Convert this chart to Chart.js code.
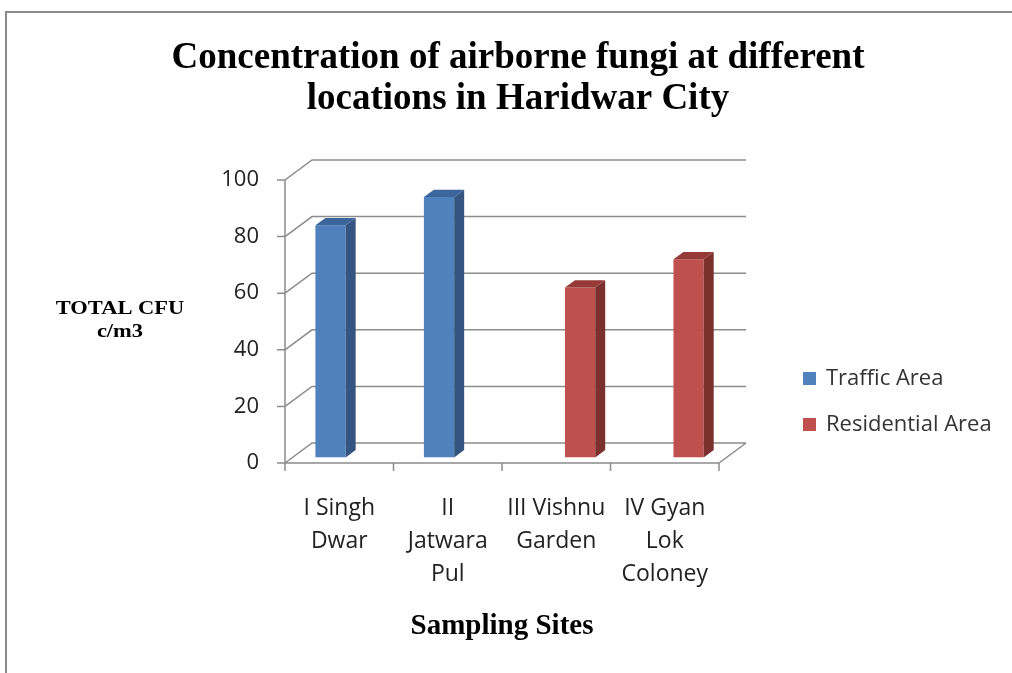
<!DOCTYPE html>
<html>
<head>
<meta charset="utf-8">
<script src="https://cdn.jsdelivr.net/npm/chart.js@4.4.0/dist/chart.umd.min.js"></script>
<style>
html, body { margin: 0; padding: 0; background: #fff; }
</style>
</head>
<body>
<canvas id="bar-chart" width="1012" height="673"></canvas>
<script>
// data
var site_labels = [["I Singh", "Dwar"], ["II", "Jatwara", "Pul"], ["III Vishnu", "Garden"], ["IV Gyan", "Lok", "Coloney"]];
var traffic_values = [82, 92, null, null];
var residential_values = [null, null, 60, 70];
var series_names = ["Traffic Area", "Residential Area"];
var chart_title = ["Concentration of airborne fungi at different", "locations in Haridwar City"];
var y_title = ["TOTAL CFU", "c/m3"];
var x_title = "Sampling Sites";

var DX = 27, DY = -20;          // depth of the 3d box
var BAR_SHIFT = 0.28, BAR_DEPTH = 0.37;
var GRID = '#8c8c8c';

var box3d = {
    id: 'box3d',
    beforeDraw: function (chart)
    {
        var ctx = chart.ctx;
        ctx.save();
        ctx.fillStyle = '#fff';
        ctx.fillRect(0, 0, chart.width, chart.height);
        ctx.strokeStyle = '#8a8a8a';
        ctx.lineWidth = 2;
        ctx.strokeRect(6, 12, chart.width + 20, chart.height + 20);
        ctx.restore();
    },
    beforeDatasetsDraw: function (chart)
    {
        var ctx = chart.ctx, a = chart.chartArea, y = chart.scales.y, x = chart.scales.x;
        ctx.save();
        ctx.strokeStyle = GRID;
        ctx.lineWidth = 1.5;
        ctx.beginPath();
        y.ticks.forEach(function (t)
        {
            var py = y.getPixelForValue(t.value);
            ctx.moveTo(a.left, py);
            ctx.lineTo(a.left + DX, py + DY);
            ctx.lineTo(a.right + DX, py + DY);
            ctx.moveTo(a.left - 8, py);
            ctx.lineTo(a.left, py);
        });
        ctx.moveTo(a.left, a.top);
        ctx.lineTo(a.left, a.bottom);
        ctx.moveTo(a.left, a.bottom);
        ctx.lineTo(a.right, a.bottom);
        ctx.lineTo(a.right + DX, a.bottom + DY);
        for (var i = 0; i <= x.ticks.length; i++)
        {
            var px = x.getPixelForValue(i - 0.5);
            ctx.moveTo(px, a.bottom);
            ctx.lineTo(px, a.bottom + 8);
        }
        ctx.stroke();
        ctx.restore();

        ctx.save();
        ctx.translate(DX * BAR_SHIFT, DY * BAR_SHIFT);
    },
    afterDatasetsDraw: function (chart)
    {
        var ctx = chart.ctx;
        var dx = DX * BAR_DEPTH, dy = DY * BAR_DEPTH;
        chart.data.datasets.forEach(function (ds, di)
        {
            var meta = chart.getDatasetMeta(di);
            meta.data.forEach(function (bar, i)
            {
                if (ds.data[i] == null) return;
                var p = bar.getProps(['x', 'y', 'base', 'width'], true);
                var l = p.x - p.width / 2, r = p.x + p.width / 2;
                ctx.fillStyle = ds.sideColor;
                ctx.beginPath();
                ctx.moveTo(r, p.y);
                ctx.lineTo(r + dx, p.y + dy);
                ctx.lineTo(r + dx, p.base + dy);
                ctx.lineTo(r, p.base);
                ctx.closePath();
                ctx.fill();
                ctx.fillStyle = ds.topColor;
                ctx.beginPath();
                ctx.moveTo(l, p.y);
                ctx.lineTo(l + dx, p.y + dy);
                ctx.lineTo(r + dx, p.y + dy);
                ctx.lineTo(r, p.y);
                ctx.closePath();
                ctx.fill();
            });
        });
        ctx.restore();
    },
    afterDraw: function (chart)
    {
        var ctx = chart.ctx;
        ctx.save();
        ctx.fillStyle = '#000';
        ctx.textAlign = 'center';
        ctx.textBaseline = 'alphabetic';
        ctx.font = 'bold 37px "Liberation Serif"';
        ctx.fillText(chart_title[0], 518, 68);
        ctx.fillText(chart_title[1], 518, 109);

        // y title is horizontal and a bit wide
        ctx.textBaseline = 'middle';
        ctx.save();
        ctx.translate(120, 0);
        ctx.scale(1.25, 1);
        ctx.font = 'bold 18px "Liberation Serif"';
        ctx.fillText(y_title[0], 0, 309);
        ctx.fillText(y_title[1], 0, 332);
        ctx.restore();

        // legend
        ctx.textAlign = 'left';
        ctx.font = '22px "Open Sans"';
        chart.data.datasets.forEach(function (ds, di)
        {
            var cy = 378 + di * 46;
            ctx.fillStyle = ds.backgroundColor;
            ctx.fillRect(803, cy - 6, 13, 13);
            ctx.fillStyle = '#333';
            ctx.fillText(ds.label, 826, cy + 1);
        });
        ctx.restore();
    }
};

var m_chart = new Chart(document.getElementById('bar-chart'), {
    type: 'bar',
    data: {
        labels: site_labels,
        datasets: [
            {
                label: series_names[0],
                data: traffic_values,
                backgroundColor: '#4F81BD',
                sideColor: '#34557F',
                topColor: '#3C659B',
                categoryPercentage: 0.6,
                barPercentage: 0.93
            },
            {
                label: series_names[1],
                data: residential_values,
                backgroundColor: '#C0504D',
                sideColor: '#7B302E',
                topColor: '#963A38',
                categoryPercentage: 0.6,
                barPercentage: 0.93
            }
        ]
    },
    options: {
        responsive: false,
        animation: false,
        devicePixelRatio: 1,
        layout: { padding: { left: 24, right: 293, top: 180, bottom: 0 } },
        plugins: {
            legend: { display: false },
            title: { display: false },
            tooltip: { enabled: false }
        },
        scales: {
            x: {
                grid: { display: false, drawTicks: false },
                border: { display: false },
                ticks: {
                    font: { family: 'Open Sans', size: 23, lineHeight: 1.44 },
                    color: '#222',
                    padding: 29,
                    maxRotation: 0,
                    autoSkip: false
                },
                title: {
                    display: true,
                    text: x_title,
                    color: '#000',
                    font: { family: 'Liberation Serif', size: 29, weight: 'bold' },
                    padding: { top: 0, bottom: 29 }
                },
                afterFit: function (s) { s.height = 210; }
            },
            y: {
                min: 0,
                max: 100,
                ticks: {
                    stepSize: 20,
                    font: { family: 'Open Sans', size: 22 },
                    color: '#222',
                    padding: 26
                },
                grid: { display: false, drawTicks: false },
                border: { display: false },
                afterFit: function (s) { s.width = 261; }
            }
        }
    },
    plugins: [box3d]
});
</script>
</body>
</html>
